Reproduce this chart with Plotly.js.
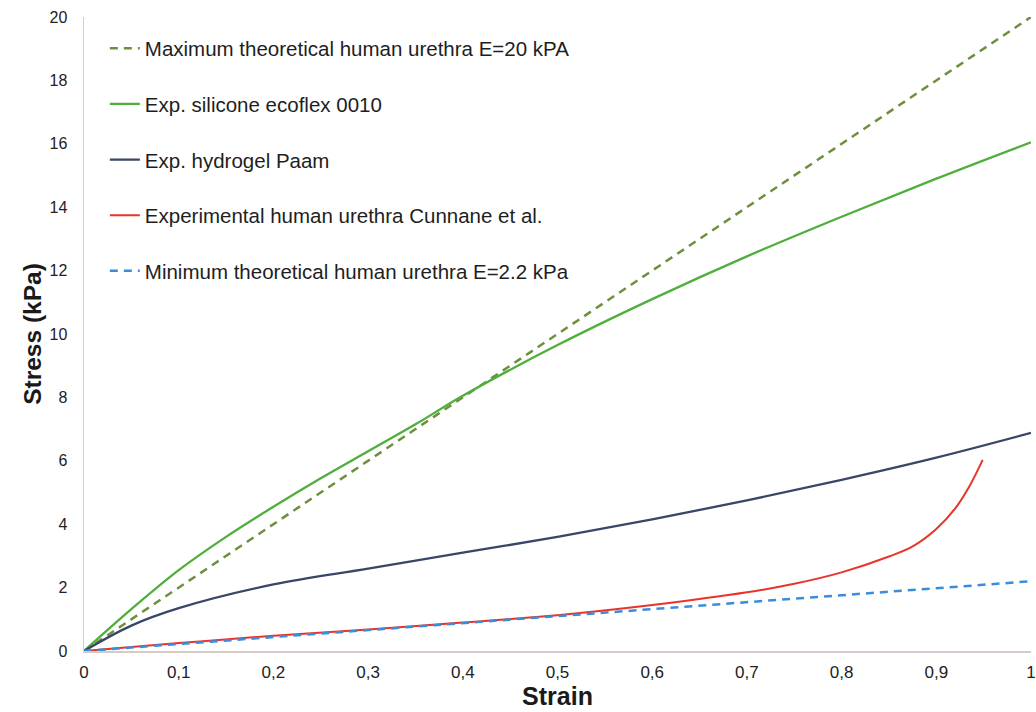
<!DOCTYPE html>
<html>
<head>
<meta charset="utf-8">
<script src="https://cdn.plot.ly/plotly-3.0.1.min.js"></script>
<style>html,body{margin:0;padding:0;background:#fff;}#chart{width:1036px;height:712px;}</style>
</head>
<body>
<div id="chart"></div>
<script>
// Strain values and stress (kPa) for each series
const strainGrid = [0, 0.1, 0.2, 0.3, 0.4, 0.5, 0.6, 0.7, 0.8, 0.9, 1.0];
const maxTheoStress = [0, 2.0, 4.0, 6.0, 8.0, 10.0, 12.0, 14.0, 16.0, 18.0, 20.0];
const minTheoStress = [0, 0.22, 0.44, 0.66, 0.88, 1.10, 1.32, 1.54, 1.76, 1.98, 2.2];

const siliconeStrain = [0, 0.05, 0.1, 0.15, 0.2, 0.25, 0.3, 0.35, 0.4, 0.5, 0.6, 0.7, 0.8, 0.9, 1.0];
const siliconeStress = [0, 1.32, 2.55, 3.6, 4.55, 5.45, 6.3, 7.15, 8.05, 9.65, 11.1, 12.45, 13.7, 14.9, 16.05];

const hydrogelStrain = [0, 0.05, 0.1, 0.2, 0.3, 0.4, 0.5, 0.6, 0.7, 0.8, 0.9, 1.0];
const hydrogelStress = [0, 0.8, 1.35, 2.1, 2.6, 3.1, 3.6, 4.15, 4.75, 5.4, 6.1, 6.88];

const urethraStrain = [0, 0.1, 0.2, 0.3, 0.4, 0.5, 0.6, 0.7, 0.75, 0.8, 0.85, 0.875, 0.9, 0.92, 0.935, 0.949];
const urethraStress = [0, 0.25, 0.48, 0.68, 0.9, 1.13, 1.45, 1.85, 2.12, 2.48, 2.98, 3.3, 3.85, 4.5, 5.2, 6.03];

const seriesNames = [
  "Maximum theoretical human urethra E=20 kPA",
  "Exp. silicone ecoflex 0010",
  "Exp. hydrogel Paam",
  "Experimental human urethra Cunnane et al.",
  "Minimum theoretical human urethra E=2.2 kPa"
];

const xTickVals = [0, 0.1, 0.2, 0.3, 0.4, 0.5, 0.6, 0.7, 0.8, 0.9, 1];
const yTickVals = [0, 2, 4, 6, 8, 10, 12, 14, 16, 18, 20];

const traces = [
  {x: strainGrid, y: maxTheoStress, name: seriesNames[0], legendgroup: "a",
   mode: "lines", line: {color: "#6e8f3e", width: 2.5, dash: "8px,6px"}},
  {x: siliconeStrain, y: siliconeStress, name: seriesNames[1], legendgroup: "b",
   mode: "lines", line: {color: "#4fae3c", width: 2.3, shape: "spline", smoothing: 1}},
  {x: hydrogelStrain, y: hydrogelStress, name: seriesNames[2], legendgroup: "c",
   mode: "lines", line: {color: "#384667", width: 2.3, shape: "spline"}},
  {x: urethraStrain, y: urethraStress, name: seriesNames[3], legendgroup: "d",
   mode: "lines", line: {color: "#e8342a", width: 2.0, shape: "spline"}},
  {x: strainGrid, y: minTheoStress, name: seriesNames[4], legendgroup: "e",
   mode: "lines", line: {color: "#3b8ddb", width: 2.5, dash: "8px,6px"}}
];

const layout = {
  width: 1036, height: 712,
  separators: ",.",
  paper_bgcolor: "#ffffff", plot_bgcolor: "#ffffff",
  margin: {l: 84, r: 5, t: 17, b: 61},
  font: {family: "Liberation Sans, Arial, sans-serif", color: "#222222"},
  showlegend: true,
  legend: {
    x: 0.022, y: 0.982, xanchor: "left", yanchor: "top",
    bgcolor: "rgba(0,0,0,0)", borderwidth: 0,
    font: {size: 20.5, color: "#1e1e1e"},
    tracegroupgap: 26, itemwidth: 30,
    traceorder: "grouped"
  },
  xaxis: {
    range: [0, 1], tickvals: xTickVals, showgrid: false, zeroline: false,
    showline: true, linecolor: "#d6cbc6", linewidth: 1.5, ticks: "",
    tickfont: {size: 17, color: "#222"}, ticklabelstandoff: 5,
    title: {text: "<b>Strain</b>", font: {size: 25, color: "#1a1a1a"}, standoff: 2},
    fixedrange: true
  },
  yaxis: {
    range: [0, 20], tickvals: yTickVals, showgrid: false, zeroline: false,
    showline: true, linecolor: "#cfcfcf", linewidth: 1.5, ticks: "",
    tickfont: {size: 16, color: "#222"}, ticklabelstandoff: 12,
    title: {text: "<b>Stress (kPa)</b>", font: {size: 24.5, color: "#1a1a1a"}, standoff: 1},
    fixedrange: true
  }
};

Plotly.newPlot("chart", traces, layout, {displayModeBar: false, staticPlot: true});
</script>
</body>
</html>
